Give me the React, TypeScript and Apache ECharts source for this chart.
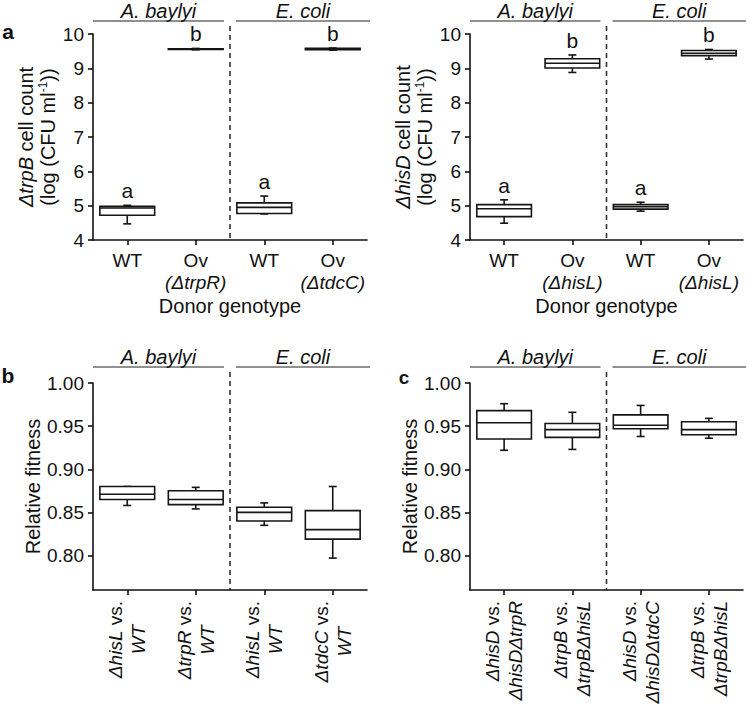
import React, { useEffect, useRef } from "react";
import * as echarts from "echarts";

// ---------- data ----------
// panel a (left): ΔtrpB cell count, log CFU/ml ; [min, q1, median, q3, max]
const catsA1 = ["WT", "Ov\n(ΔtrpR)", "WT", "Ov\n(ΔtdcC)"];
const boxesA1 = [
  [4.47, 4.72, 4.93, 4.98, 5.01],
  [9.54, 9.55, 9.56, 9.57, 9.58],
  [4.76, 4.77, 4.95, 5.08, 5.28],
  [9.53, 9.54, 9.56, 9.58, 9.59],
];
const lettersA1 = ["a", "b", "a", "b"];

// panel a (right): ΔhisD cell count
const catsA2 = ["WT", "Ov\n(ΔhisL)", "WT", "Ov\n(ΔhisL)"];
const boxesA2 = [
  [4.49, 4.68, 4.91, 5.03, 5.17],
  [8.88, 9.01, 9.15, 9.28, 9.39],
  [4.84, 4.9, 4.97, 5.03, 5.1],
  [9.27, 9.37, 9.44, 9.52, 9.55],
];
const lettersA2 = ["a", "b", "a", "b"];

// panel b: relative fitness
const catsB = ["ΔhisL vs.\nWT", "ΔtrpR vs.\nWT", "ΔhisL vs.\nWT", "ΔtdcC vs.\nWT"];
const boxesB = [
  [0.858, 0.865, 0.871, 0.88, 0.88],
  [0.854, 0.859, 0.865, 0.875, 0.879],
  [0.835, 0.84, 0.85, 0.856, 0.861],
  [0.797, 0.819, 0.83, 0.852, 0.88],
];

// panel c: relative fitness
const catsC = ["ΔhisD vs.\nΔhisDΔtrpR", "ΔtrpB vs.\nΔtrpBΔhisL", "ΔhisD vs.\nΔhisDΔtdcC", "ΔtrpB vs.\nΔtrpBΔhisL"];
const boxesC = [
  [0.922, 0.935, 0.954, 0.968, 0.976],
  [0.923, 0.937, 0.946, 0.953, 0.966],
  [0.938, 0.947, 0.951, 0.963, 0.974],
  [0.936, 0.94, 0.946, 0.955, 0.959],
];

const groupNames = ["A. baylyi", "E. coli"];
const ticksA = [4, 5, 6, 7, 8, 9, 10];
const ticksFit = [0.8, 0.85, 0.9, 0.95, 1.0];
const panelLetters = ["a", "b", "c"];

// ---------- layout ----------
const FONT = "Liberation Sans, Arial, Helvetica, sans-serif";
const INK = "#111";
const grids = [
  { left: 93, top: 34, width: 274, height: 206 },
  { left: 470, top: 34, width: 273, height: 206 },
  { left: 93, top: 383, width: 274, height: 207 },
  { left: 470, top: 383, width: 273, height: 207 },
];
const headerY = [21, 21, 367, 367];

const richBase = {
  n: { fontFamily: FONT, fontSize: 19, color: INK, lineHeight: 22 },
  i: { fontFamily: FONT, fontSize: 19, color: INK, fontStyle: "italic", lineHeight: 22 },
  ic: { fontFamily: FONT, fontSize: 19, color: INK, fontStyle: "italic", lineHeight: 23, align: "center" },
  ir: { fontFamily: FONT, fontSize: 19, color: INK, fontStyle: "italic", lineHeight: 23 },
  nr: { fontFamily: FONT, fontSize: 19, color: INK, lineHeight: 23 },
};

function fmtUpright(v: string) {
  return v
    .split("\n")
    .map((line) => (line.startsWith("(") ? `{i|${line}}` : `{n|${line}}`))
    .join("\n");
}
function fmtRotated(v: string) {
  const lines = v.split("\n");
  return lines
    .map((line, k) => {
      if (line.endsWith(" vs.")) return `{ir|${line.slice(0, -4)}}{nr| vs.}`;
      if (k > 0 && line === "WT") return `{ic|${line}}`;
      return `{ir|${line}}`;
    })
    .join("\n");
}

const renderBox = (params: any, api: any) => {
  const x = api.value(0);
  const lo = api.coord([x, api.value(1)]);
  const q1 = api.coord([x, api.value(2)]);
  const med = api.coord([x, api.value(3)]);
  const q3 = api.coord([x, api.value(4)]);
  const hi = api.coord([x, api.value(5)]);
  const band = api.size([1, 0])[0];
  const w = band * 0.8;
  const cap = 8;
  const cx = lo[0];
  const ls = { stroke: "#151515", lineWidth: 1.6 };
  return {
    type: "group",
    children: [
      { type: "line", shape: { x1: cx, y1: hi[1], x2: cx, y2: q3[1] }, style: ls },
      { type: "line", shape: { x1: cx, y1: lo[1], x2: cx, y2: q1[1] }, style: ls },
      { type: "line", shape: { x1: cx - cap / 2, y1: hi[1], x2: cx + cap / 2, y2: hi[1] }, style: ls },
      { type: "line", shape: { x1: cx - cap / 2, y1: lo[1], x2: cx + cap / 2, y2: lo[1] }, style: ls },
      {
        type: "rect",
        shape: { x: cx - w / 2, y: q3[1], width: w, height: Math.max(q1[1] - q3[1], 0.5) },
        style: { fill: "#fff", stroke: "#151515", lineWidth: 1.6 },
      },
      { type: "line", shape: { x1: cx - w / 2, y1: med[1], x2: cx + w / 2, y2: med[1] }, style: ls },
    ],
  };
};

export default function App() {
  const ref = useRef<HTMLDivElement>(null);
  useEffect(() => {
    if (!ref.current) return;
    const chart = echarts.init(ref.current, undefined, { renderer: "svg" });

    const cats = [catsA1, catsA2, catsB, catsC];
    const boxes = [boxesA1, boxesA2, boxesB, boxesC];

    const xAxes = cats.map((c, k) => ({
      type: "category",
      gridIndex: k,
      data: c,
      boundaryGap: true,
      axisLine: { show: true, lineStyle: { color: INK, width: 1.6 } },
      axisTick: { show: true, alignWithLabel: true, length: 5, lineStyle: { color: INK, width: 1.6 } },
      axisLabel:
        k < 2
          ? { interval: 0, margin: 9, formatter: fmtUpright, rich: richBase, align: "center" }
          : { interval: 0, margin: 11, rotate: 90, formatter: fmtRotated, rich: richBase },
      name: k < 2 ? "Donor genotype" : "",
      nameLocation: "middle",
      nameGap: 56,
      nameTextStyle: { fontFamily: FONT, fontSize: 20, color: INK },
      splitLine: { show: false },
    }));

    const yNameRich = {
      n: { fontFamily: FONT, fontSize: 20, color: INK, lineHeight: 22 },
      i: { fontFamily: FONT, fontSize: 20, color: INK, fontStyle: "italic", lineHeight: 22 },
      s: { fontFamily: FONT, fontSize: 12, color: INK, lineHeight: 22, verticalAlign: "top" },
    };
    const yNames = [
      "{i|ΔtrpB}{n| cell count}\n{n|(log (CFU ml}{s|-1}{n|))}",
      "{i|ΔhisD}{n| cell count}\n{n|(log (CFU ml}{s|-1}{n|))}",
      "{n|Relative fitness}",
      "{n|Relative fitness}",
    ];
    const yAxes = [0, 1, 2, 3].map((k) => {
      const isA = k < 2;
      return {
        type: "value",
        gridIndex: k,
        min: isA ? 4 : 0.76,
        max: isA ? 10 : 1.0,
        interval: isA ? 1 : undefined,
        splitLine: { show: false },
        axisLine: { show: true, lineStyle: { color: INK, width: 1.6 } },
        axisTick: {
          show: true,
          length: 5,
          lineStyle: { color: INK, width: 1.6 },
          ...(isA ? {} : { customValues: ticksFit }),
        },
        axisLabel: {
          margin: 9,
          fontFamily: FONT,
          fontSize: 19,
          color: INK,
          ...(isA ? { customValues: ticksA } : { customValues: ticksFit }),
          formatter: (v: number) => (isA ? String(v) : v.toFixed(2)),
        },
        name: yNames[k],
        nameLocation: "middle",
        nameGap: isA ? 34 : 47,
        nameTextStyle: { rich: yNameRich, fontFamily: FONT, fontSize: 20, color: INK },
      };
    });

    const series: any[] = [];
    boxes.forEach((b, k) => {
      series.push({
        type: "custom",
        xAxisIndex: k,
        yAxisIndex: k,
        renderItem: renderBox,
        encode: { x: 0, y: [1, 2, 3, 4, 5] },
        data: b.map((v, idx) => [idx, ...v]),
        z: 3,
      });
    });
    [lettersA1, lettersA2].forEach((letters, k) => {
      series.push({
        type: "scatter",
        xAxisIndex: k,
        yAxisIndex: k,
        symbolSize: 2,
        itemStyle: { color: "rgba(0,0,0,0)" },
        data: boxes[k].map((v, idx) => [idx, v[4]]),
        label: {
          show: true,
          position: "top",
          distance: 3,
          formatter: (p: any) => letters[p.dataIndex],
          fontFamily: FONT,
          fontSize: 21,
          color: INK,
          opacity: 1,
        },
        z: 4,
      });
    });

    const graphic: any[] = [];
    grids.forEach((g, k) => {
      const mid = g.left + g.width / 2;
      const hy = headerY[k];
      graphic.push(
        { type: "line", shape: { x1: g.left, y1: hy, x2: mid - 6, y2: hy }, style: { stroke: "#6b6b6b", lineWidth: 1.6 } },
        { type: "line", shape: { x1: mid + 6, y1: hy, x2: g.left + g.width + 3, y2: hy }, style: { stroke: "#6b6b6b", lineWidth: 1.6 } },
        {
          type: "text",
          x: (g.left + mid - 6) / 2,
          y: hy - 10,
          style: { text: groupNames[0], fontFamily: FONT, fontSize: 20, fontStyle: "italic", fill: INK, align: "center", verticalAlign: "middle" },
        },
        {
          type: "text",
          x: (mid + 6 + g.left + g.width + 3) / 2,
          y: hy - 10,
          style: { text: groupNames[1], fontFamily: FONT, fontSize: 20, fontStyle: "italic", fill: INK, align: "center", verticalAlign: "middle" },
        },
        {
          type: "line",
          shape: { x1: mid, y1: hy + 5, x2: mid, y2: g.top + g.height },
          style: { stroke: "#333", lineWidth: 1.6, lineDash: [5, 4] },
        }
      );
    });
    graphic.push(
      { type: "text", x: 8, y: 31, style: { text: panelLetters[0], fontFamily: FONT, fontSize: 21, fontWeight: "bold", fill: INK, align: "center", verticalAlign: "middle" } },
      { type: "text", x: 8, y: 375, style: { text: panelLetters[1], fontFamily: FONT, fontSize: 21, fontWeight: "bold", fill: INK, align: "center", verticalAlign: "middle" } },
      { type: "text", x: 404, y: 377, style: { text: panelLetters[2], fontFamily: FONT, fontSize: 19, fontWeight: "bold", fill: INK, align: "center", verticalAlign: "middle" } }
    );

    chart.setOption({
      animation: false,
      backgroundColor: "#fff",
      textStyle: { fontFamily: FONT },
      grid: grids.map((g) => ({ ...g, containLabel: false })),
      xAxis: xAxes,
      yAxis: yAxes,
      series,
      graphic,
    });
    return () => chart.dispose();
  }, []);

  return (
    <div
      ref={ref}
      style={{ position: "fixed", left: 0, top: 0, width: 747, height: 710, background: "#fff" }}
    />
  );
}
